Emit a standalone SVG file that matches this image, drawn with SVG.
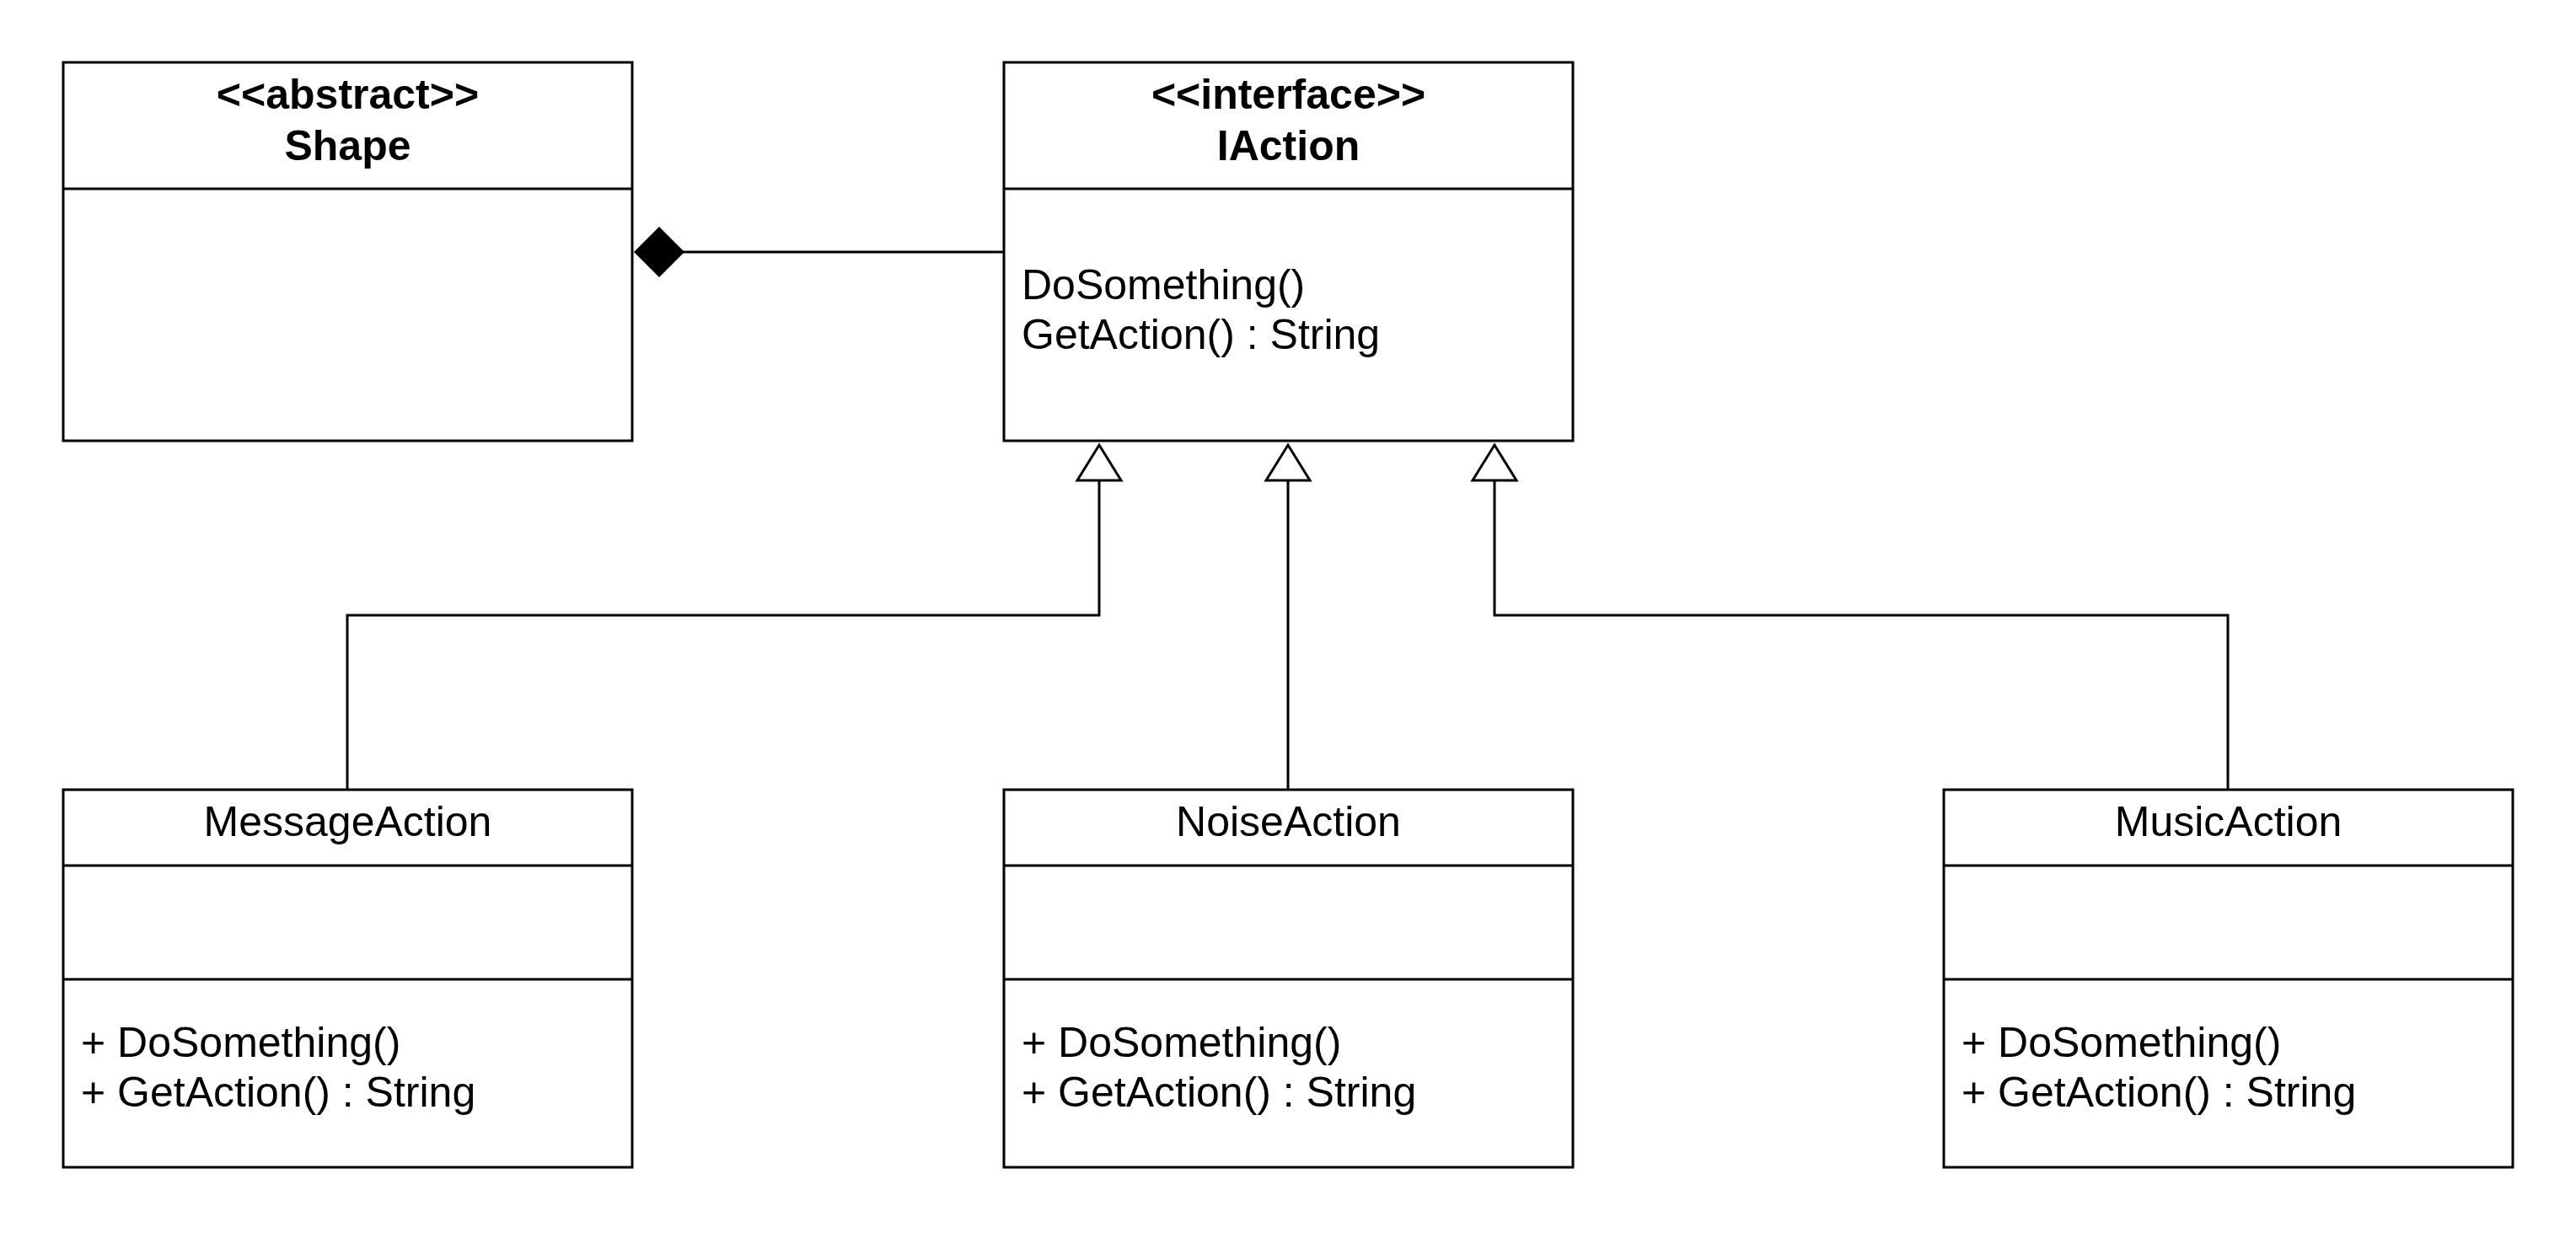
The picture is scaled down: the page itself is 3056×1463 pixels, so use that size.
<svg xmlns="http://www.w3.org/2000/svg" width="3056" height="1463" viewBox="0 0 3056 1463">
<style>
.box{fill:#ffffff;stroke:#000000;stroke-width:3}
.div{stroke:#000000;stroke-width:3;fill:none}
.t{font-family:"Liberation Sans",Arial,sans-serif;font-size:50px;fill:#000000}
.b{font-weight:bold;text-anchor:middle}
.c{text-anchor:middle}
.conn{stroke:#000000;stroke-width:3;fill:none}
.tri{fill:#ffffff;stroke:#000000;stroke-width:3;stroke-linejoin:miter}
.dia{fill:#000000;stroke:none}
</style>
<rect width="3056" height="1463" fill="#ffffff"/>
<g id="connectors">
<line class="conn" x1="810" y1="299" x2="1191" y2="299"/>
<polygon class="dia" points="752,299 782,269 812,299 782,329"/>
<polyline class="conn" points="412,937 412,730 1304,730 1304,570"/>
<polygon class="tri" points="1304,528 1330,570 1278,570"/>
<line class="conn" x1="1528" y1="937" x2="1528" y2="570"/>
<polygon class="tri" points="1528,528 1554,570 1502,570"/>
<polyline class="conn" points="2643,937 2643,730 1773,730 1773,570"/>
<polygon class="tri" points="1773,528 1799,570 1747,570"/>
</g>
<g id="shape">
<rect class="box" x="75" y="74" width="675" height="449"/>
<line class="div" x1="75" y1="224" x2="750" y2="224"/>
<text class="t b" x="412.5" y="129">&lt;&lt;abstract&gt;&gt;</text>
<text class="t b" x="412.5" y="190">Shape</text>
</g>
<g id="iaction">
<rect class="box" x="1191" y="74" width="675" height="449"/>
<line class="div" x1="1191" y1="224" x2="1866" y2="224"/>
<text class="t b" x="1528.5" y="129">&lt;&lt;interface&gt;&gt;</text>
<text class="t b" x="1528.5" y="190">IAction</text>
<text class="t" x="1212" y="355">DoSomething()</text>
<text class="t" x="1212" y="414">GetAction() : String</text>
</g>
<g id="messageaction">
<rect class="box" x="75" y="937" width="675" height="448"/>
<line class="div" x1="75" y1="1027" x2="750" y2="1027"/>
<line class="div" x1="75" y1="1162" x2="750" y2="1162"/>
<text class="t c" x="412.5" y="992">MessageAction</text>
<text class="t" x="96" y="1254">+ DoSomething()</text>
<text class="t" x="96" y="1313">+ GetAction() : String</text>
</g>
<g id="noiseaction">
<rect class="box" x="1191" y="937" width="675" height="448"/>
<line class="div" x1="1191" y1="1027" x2="1866" y2="1027"/>
<line class="div" x1="1191" y1="1162" x2="1866" y2="1162"/>
<text class="t c" x="1528.5" y="992">NoiseAction</text>
<text class="t" x="1212" y="1254">+ DoSomething()</text>
<text class="t" x="1212" y="1313">+ GetAction() : String</text>
</g>
<g id="musicaction">
<rect class="box" x="2306" y="937" width="675" height="448"/>
<line class="div" x1="2306" y1="1027" x2="2981" y2="1027"/>
<line class="div" x1="2306" y1="1162" x2="2981" y2="1162"/>
<text class="t c" x="2643.5" y="992">MusicAction</text>
<text class="t" x="2327" y="1254">+ DoSomething()</text>
<text class="t" x="2327" y="1313">+ GetAction() : String</text>
</g>
</svg>
